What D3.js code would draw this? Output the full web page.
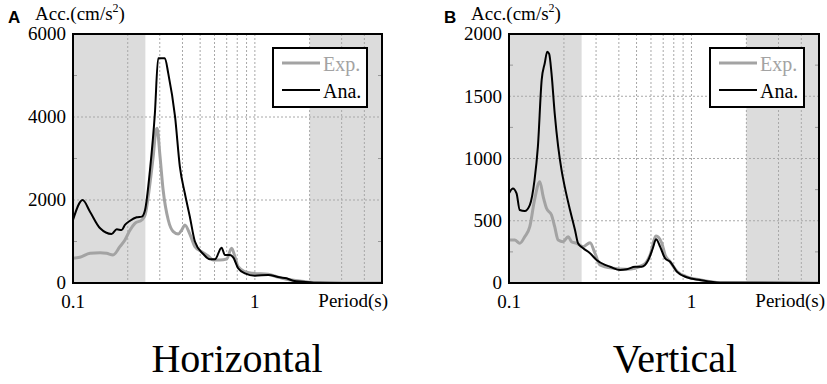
<!DOCTYPE html>
<html lang="en">
<head>
<meta charset="utf-8">
<title>Response spectra</title>
<style>
body { margin: 0; background: #fff; }
svg { display: block; }
.grid { stroke: #a8a8a8; stroke-width: 1; stroke-dasharray: 2,2; fill: none; }
.minor { stroke: #999; stroke-width: 1; }
</style>
</head>
<body>
<div id="chart"></div>
<script src="https://d3js.org/d3.v7.min.js"></script>
<script>
// Horizontal (panel A)
var horizPeriodExp = [0.100, 0.109, 0.124, 0.141, 0.153, 0.166, 0.181, 0.193, 0.206, 0.219, 0.239, 0.249, 0.265, 0.276, 0.286, 0.290, 0.301, 0.313, 0.334, 0.356, 0.379, 0.396, 0.412, 0.439, 0.468, 0.510, 0.554, 0.590, 0.642, 0.699, 0.745, 0.777, 0.809, 0.881, 0.979, 1.183, 1.316, 1.493, 1.767, 2.084, 2.6, 5.0];
var horizAccExp    = [594, 619, 715, 731, 715, 675, 875, 1036, 1277, 1438, 1518, 1639, 2402, 3044, 3687, 3727, 3044, 2241, 1518, 1237, 1180, 1277, 1398, 1180, 875, 755, 651, 554, 554, 578, 836, 634, 393, 273, 233, 209, 152, 89, 48, 10, 0, 0];
var horizPeriodAna = [0.100, 0.113, 0.124, 0.141, 0.163, 0.174, 0.185, 0.193, 0.206, 0.224, 0.239, 0.249, 0.265, 0.282, 0.294, 0.320, 0.334, 0.364, 0.387, 0.412, 0.439, 0.468, 0.520, 0.566, 0.603, 0.656, 0.684, 0.729, 0.760, 0.809, 0.881, 1.0, 1.183, 1.371, 1.493, 1.623, 1.843, 2.276, 5.0];
var horizAccAna    = [1518, 2000, 1718, 1318, 1180, 1294, 1277, 1398, 1501, 1583, 1600, 1759, 2723, 4089, 5414, 5414, 5052, 4007, 2800, 2161, 1598, 1000, 699, 571, 570, 851, 675, 675, 619, 354, 233, 176, 193, 137, 113, 55, 31, 5, 0];

// Vertical (panel B)
var vertPeriodExp = [0.101, 0.1075, 0.1145, 0.122, 0.130, 0.138, 0.1475, 0.154, 0.1605, 0.171, 0.178, 0.186, 0.198, 0.211, 0.220, 0.235, 0.255, 0.278, 0.296, 0.315, 0.373, 0.442, 0.545, 0.593, 0.640, 0.688, 0.717, 0.764, 0.832, 0.943, 1.116, 1.438, 5.0];
var vertAccExp    = [345, 345, 319, 372, 452, 667, 814, 693, 600, 546, 452, 345, 332, 372, 332, 319, 292, 324, 239, 145, 118, 110, 145, 225, 378, 319, 225, 171, 95, 50, 26, 4, 0];
var vertPeriodAna = [0.100, 0.105, 0.110, 0.1145, 0.122, 0.130, 0.138, 0.144, 0.151, 0.157, 0.162, 0.166, 0.171, 0.178, 0.186, 0.194, 0.202, 0.216, 0.230, 0.239, 0.255, 0.278, 0.302, 0.336, 0.358, 0.406, 0.442, 0.491, 0.534, 0.580, 0.614, 0.640, 0.673, 0.717, 0.764, 0.832, 0.943, 1.116, 1.438, 5.0];
var vertAccAna    = [720, 760, 720, 586, 578, 626, 827, 1095, 1630, 1765, 1858, 1840, 1684, 1363, 1095, 908, 774, 586, 426, 319, 279, 239, 185, 145, 131, 104, 110, 131, 131, 185, 279, 351, 292, 198, 171, 91, 46, 24, 3, 0];

var xDomain = [0.1, 5];
var shadeBands = [[0.1, 0.25], [2, 5]];
var xGridValues = [0.2, 0.3, 0.4, 0.5, 0.6, 0.7, 0.8, 0.9, 1, 2, 3, 4];
var xTickLabels = [0.1, 1];

var horizYTicks = [0, 2000, 4000, 6000];
var horizYMinor = [1000, 3000, 5000];
var vertYTicks = [0, 500, 1000, 1500, 2000];
var vertYMinor = [250, 750, 1250, 1750];

var seriesNames = ["Exp.", "Ana."];
var seriesColors = ["#a3a3a3", "#000"];
var seriesWidths = [3, 2];

var serif = "'Liberation Serif', 'Times New Roman', Times, serif";
var width = 827, height = 384;

var svg = d3.select("#chart").append("svg")
	.attr("width", width)
	.attr("height", height)
	.style("font-family", serif);

function label(g, x, y, size) {
	return g.append("text")
		.attr("x", x).attr("y", y)
		.style("font-family", serif)
		.style("font-size", size + "px");
}

function drawPanel(opts) {
	var left = opts.left, right = opts.right, top = 34, bottom = 283;

	var x = d3.scaleLog().domain(xDomain).range([left, right]);
	var y = d3.scaleLinear().domain([0, opts.yMax]).range([bottom, top]);

	var g = svg.append("g");

	// shaded period ranges
	g.selectAll("rect.band").data(shadeBands).enter().append("rect")
		.attr("class", "band")
		.attr("x", function(d) { return x(d[0]); })
		.attr("y", top)
		.attr("width", function(d) { return x(d[1]) - x(d[0]); })
		.attr("height", bottom - top)
		.attr("fill", "#dcdcdc");

	// grid
	g.selectAll("line.vgrid").data(xGridValues).enter().append("line")
		.attr("class", "grid")
		.attr("x1", function(d) { return x(d); })
		.attr("x2", function(d) { return x(d); })
		.attr("y1", top).attr("y2", bottom);

	g.selectAll("line.hgrid").data(opts.yTicks.slice(1, -1)).enter().append("line")
		.attr("class", "grid")
		.attr("x1", left).attr("x2", right)
		.attr("y1", function(d) { return y(d); })
		.attr("y2", function(d) { return y(d); });

	// little inward ticks on both sides
	opts.yMinor.forEach(function(v) {
		g.append("line").attr("class", "minor")
			.attr("x1", left).attr("x2", left + 4)
			.attr("y1", y(v)).attr("y2", y(v));
		g.append("line").attr("class", "minor")
			.attr("x1", right - 4).attr("x2", right)
			.attr("y1", y(v)).attr("y2", y(v));
	});

	// curves
	g.append("clipPath").attr("id", "clip" + opts.id)
		.append("rect").attr("x", left).attr("y", top)
		.attr("width", right - left).attr("height", bottom - top);

	var line = d3.line()
		.x(function(d) { return x(d[0]); })
		.y(function(d) { return y(d[1]); })
		.curve(d3.curveMonotoneX);

	opts.series.forEach(function(s, i) {
		g.append("path")
			.datum(d3.zip(s[0], s[1]))
			.attr("clip-path", "url(#clip" + opts.id + ")")
			.attr("fill", "none")
			.attr("stroke", seriesColors[i])
			.attr("stroke-width", seriesWidths[i])
			.attr("stroke-linejoin", "round")
			.attr("d", line);
	});

	// frame
	g.append("rect")
		.attr("x", left).attr("y", top)
		.attr("width", right - left).attr("height", bottom - top)
		.attr("fill", "none").attr("stroke", "#000").attr("stroke-width", 2);

	// legend
	var lx = right - 109, ly = 48;
	g.append("rect")
		.attr("x", lx).attr("y", ly).attr("width", 94).attr("height", 59)
		.attr("fill", "#fff").attr("stroke", "#000").attr("stroke-width", 2);
	seriesNames.forEach(function(name, i) {
		var yy = ly + 15 + i * 27;
		g.append("line")
			.attr("x1", lx + 9).attr("x2", lx + 47)
			.attr("y1", yy).attr("y2", yy)
			.attr("stroke", seriesColors[i]).attr("stroke-width", seriesWidths[i]);
		label(g, lx + 50, yy + 8, 20)
			.attr("fill", seriesColors[i])
			.text(name);
	});

	// y tick labels
	opts.yTicks.forEach(function(d) {
		label(g, left - 7, y(d), 19)
			.attr("dy", "0.33em")
			.attr("text-anchor", "end")
			.text(d);
	});

	// x tick labels
	xTickLabels.forEach(function(d) {
		label(g, x(d), 308, 19)
			.attr("text-anchor", "middle")
			.text(d);
	});

	label(g, right + 6, 307, 19)
		.attr("text-anchor", "end")
		.text("Period(s)");

	// y axis title with superscript
	var t = label(g, left - 38, 20, 19);
	t.append("tspan").text("Acc.(cm/s");
	t.append("tspan").style("font-size", "12px").attr("dy", -8).text("2");
	t.append("tspan").attr("dy", 8).text(")");

	g.append("text")
		.attr("x", left - 65).attr("y", 23)
		.style("font-family", "'Liberation Sans', Arial, sans-serif")
		.style("font-weight", "bold")
		.style("font-size", "17px")
		.text(opts.letter);

	label(g, opts.titleX, 372, 40)
		.attr("text-anchor", "middle")
		.text(opts.title);
}

drawPanel({
	id: "A", letter: "A", title: "Horizontal", titleX: 237,
	left: 73, right: 382, yMax: 6000,
	yTicks: horizYTicks, yMinor: horizYMinor,
	series: [[horizPeriodExp, horizAccExp], [horizPeriodAna, horizAccAna]]
});

drawPanel({
	id: "B", letter: "B", title: "Vertical", titleX: 675,
	left: 509, right: 819, yMax: 2000,
	yTicks: vertYTicks, yMinor: vertYMinor,
	series: [[vertPeriodExp, vertAccExp], [vertPeriodAna, vertAccAna]]
});
</script>
</body>
</html>
